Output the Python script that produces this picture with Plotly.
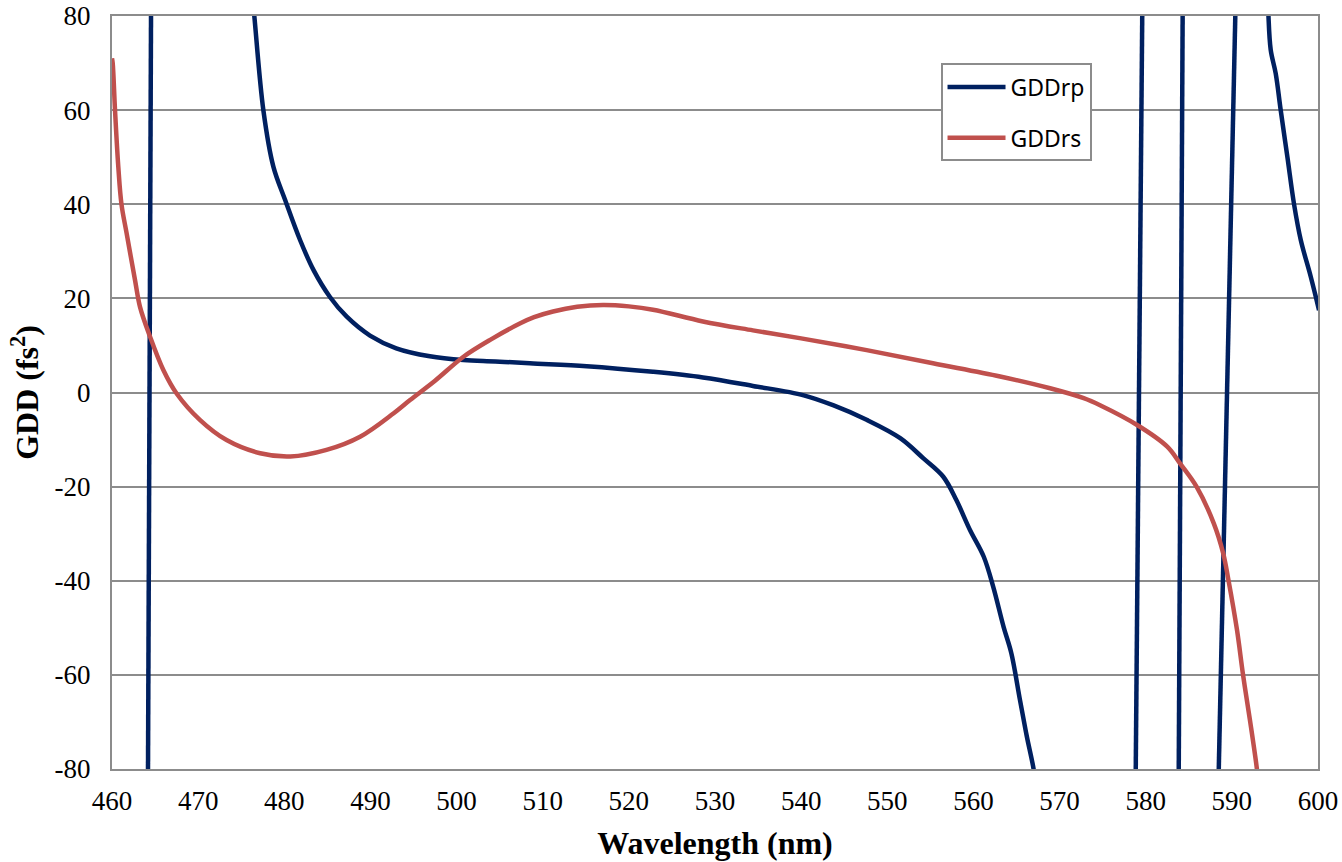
import plotly.graph_objects as go

# ---- data ----
# GDDrp: segments separated by gaps (data off-scale between them)
rp_seg1_x = [464.17, 464.54]
rp_seg1_y = [-85, 85]

rp_seg2_x = [476.3, 476.52, 477.57, 478.73, 480.1, 481.83, 483.4, 485.3, 487.25, 489.95,
             493.0, 496.9, 500.8, 504.5, 508.5, 515.1, 522.8, 528.6, 534.4, 540.3,
             543.7, 547.6, 551.5, 554.2, 556.5, 558.0, 559.6, 561.2, 562.3, 563.5,
             564.4, 565.4, 566.2, 567.0, 567.2]
rp_seg2_y = [84, 80, 60, 48, 40.9, 32.4, 26.0, 20.3, 16.1, 12.1,
             9.4, 7.7, 6.9, 6.6, 6.2, 5.6, 4.4, 3.2, 1.4, -0.6,
             -2.7, -5.8, -9.7, -14.0, -17.9, -22.8, -29.2, -34.9, -41.3, -49.8,
             -55.4, -65.3, -73.1, -80.2, -84]

rp_seg3_x = [578.82, 579.62]
rp_seg3_y = [-85, 85]

rp_seg4_x = [583.82, 584.30]
rp_seg4_y = [-85, 85]

rp_seg5_x = [588.42, 590.46]
rp_seg5_y = [-85, 85]

rp_seg6_x = [594.2, 594.25, 594.51, 595.09, 595.67, 596.45, 597.22, 598.0, 599.16, 600.12]
rp_seg6_y = [84, 80, 72.8, 67.8, 60, 50, 40, 32.4, 24.6, 17.5]

# GDDrs: one continuous curve
rs_x = [460.0, 460.08, 460.35, 460.73, 461.1, 461.7, 462.67, 463.25, 464.41, 465.96,
        467.5, 470.2, 473.3, 477.2, 480.7, 484.9, 488.8, 492.7, 494.6, 497.5,
        500.8, 504.0, 507.4, 509.0, 511.2, 514.0, 517.0, 520.0, 522.8, 528.6,
        534.4, 540.0, 547.6, 555.3, 563.1, 568.9, 572.8, 574.7, 579.0, 582.5,
        584.0, 585.9, 587.9, 589.0, 589.6, 590.6, 591.3, 592.1, 592.9, 593.0]
rs_y = [71, 70, 60, 48, 40, 33.8, 23.9, 18.2, 11.9, 4.8,
        -0.2, -5.8, -10.1, -12.9, -13.6, -12.2, -9.4, -4.4, -1.6, 2.5,
        7.6, 11.3, 14.7, 16.0, 17.2, 18.2, 18.6, 18.3, 17.6, 15.1,
        13.2, 11.5, 9.0, 6.2, 3.4, 0.9, -1.2, -2.7, -6.9, -11.5,
        -15.1, -20, -27.8, -34.2, -39.8, -50.5, -60, -69.6, -79.9, -82]

x_ticks = [460, 470, 480, 490, 500, 510, 520, 530, 540, 550, 560, 570, 580, 590, 600]
y_ticks = [-80, -60, -40, -20, 0, 20, 40, 60, 80]
y_tick_labels = ["-80", "-60", "-40", "-20", "0", "20", "40", "60", "80"]

# ---- build GDDrp with gaps ----
rp_x, rp_y = [], []
for sx, sy in [(rp_seg1_x, rp_seg1_y), (rp_seg2_x, rp_seg2_y), (rp_seg3_x, rp_seg3_y),
               (rp_seg4_x, rp_seg4_y), (rp_seg5_x, rp_seg5_y), (rp_seg6_x, rp_seg6_y)]:
    if rp_x:
        rp_x.append(None)
        rp_y.append(None)
    rp_x.extend(sx)
    rp_y.extend(sy)

BLUE = "#002060"
RED = "#C0504D"
GRID = "#8C8C8C"

fig = go.Figure()
fig.add_trace(go.Scatter(x=rp_x, y=rp_y, mode="lines", name="GDDrp",
                         line=dict(color=BLUE, width=4.5, shape="spline", smoothing=1.0),
                         connectgaps=False, legendgroup="a"))
fig.add_trace(go.Scatter(x=rs_x, y=rs_y, mode="lines", name="GDDrs",
                         line=dict(color=RED, width=4.5, shape="spline", smoothing=1.0),
                         legendgroup="b"))

serif = "Liberation Serif, Times New Roman, serif"

fig.update_layout(
    width=1342, height=862,
    margin=dict(l=112, r=24, t=16, b=93),
    paper_bgcolor="white", plot_bgcolor="white",
    showlegend=True,
    legend=dict(x=0.687, y=0.937, xanchor="left", yanchor="top",
                bgcolor="white", bordercolor=GRID, borderwidth=2,
                font=dict(family="Noto Sans, Open Sans, sans-serif", size=23, color="black"),
                itemwidth=58, traceorder="grouped", tracegroupgap=18),
    xaxis=dict(range=[460, 600], tickvals=x_ticks, showgrid=False, zeroline=False,
               showline=True, linecolor=GRID, linewidth=2, mirror=True, automargin=False,
               ticks="", tickfont=dict(family=serif, size=27, color="black"),
               ticklabelstandoff=7, ticklabeloverflow="allow",
               title=dict(text="<b>Wavelength (nm)</b>",
                          font=dict(family=serif, size=32, color="black"), standoff=16)),
    yaxis=dict(range=[-80, 80], tickvals=y_ticks, ticktext=y_tick_labels,
               showgrid=True, gridcolor=GRID, gridwidth=2, automargin=False,
               zeroline=False, showline=True, linecolor=GRID, linewidth=2, mirror=True,
               ticks="", tickfont=dict(family=serif, size=27, color="black"),
               ticklabelstandoff=14, ticklabeloverflow="allow",
               title=dict(text="<b>GDD (fs<sup>2</sup>)</b>",
                          font=dict(family=serif, size=32, color="black"), standoff=6)),
)

# remove the default page margin so the figure sits at the window origin
fig.write_html("out.html", config={"displayModeBar": False},
               post_script="document.body.style.margin='0';")
